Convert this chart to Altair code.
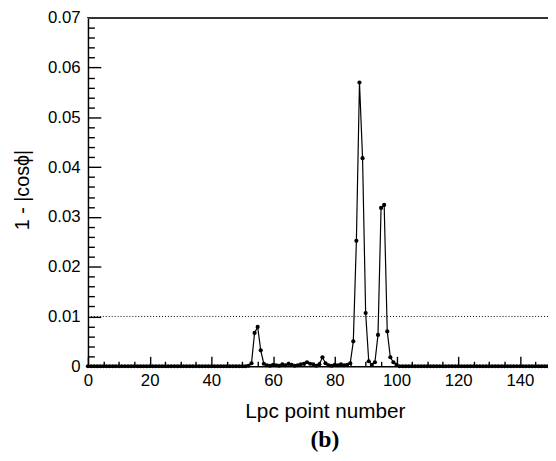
import altair as alt
import pandas as pd

# Lpc point index and 1 - |cos(phi)|
lpc_point = list(range(150))
one_minus_cos = [
    0, 0, 0, 0, 0, 0, 0, 0, 0, 0,
    0, 0, 0, 0, 0, 0, 0, 0, 0, 0,
    0, 0, 0, 0, 0, 0, 0, 0, 0, 0,
    0, 0, 0, 0, 0, 0, 0, 0, 0, 0,
    0, 0, 0, 0, 0, 0, 0, 0, 0, 0,
    0, 0, 0.0001, 0.0006, 0.0067, 0.0079, 0.0032, 0.0005, 0.0002, 0.0001,
    0.0003, 0.0002, 0.0001, 0.0004, 0.0002, 0.0005, 0.0003, 0.0001, 0.0002, 0.0004,
    0.0005, 0.0008, 0.0005, 0.0004, 0.0001, 0.0004, 0.0018, 0.0006, 0.0002, 0.0001,
    0.0003, 0.0002, 0.0004, 0.0002, 0.0003, 0.0006, 0.0050, 0.0252, 0.0570, 0.0418,
    0.0107, 0.0010, 0.0003, 0.0008, 0.0063, 0.0318, 0.0324, 0.0070, 0.0018, 0.0008,
    0.0003, 0, 0, 0, 0, 0, 0, 0, 0, 0,
    0, 0, 0, 0, 0, 0, 0, 0, 0, 0,
    0, 0, 0, 0, 0, 0, 0, 0, 0, 0,
    0, 0, 0, 0, 0, 0, 0, 0, 0, 0,
    0, 0, 0, 0, 0, 0, 0, 0, 0, 0,
]
threshold = [0.01]

x_labels = [0, 20, 40, 60, 80, 100, 120, 140]
x_ticks = [0, 5, 10, 15, 20, 25, 30, 35, 40, 45, 50, 55, 60, 65, 70, 75,
           80, 85, 90, 95, 100, 105, 110, 115, 120, 125, 130, 135, 140, 145]
y_labels = [0, 0.01, 0.02, 0.03, 0.04, 0.05, 0.06, 0.07]
y_ticks = [0, 0.002, 0.004, 0.006, 0.008, 0.01, 0.012, 0.014, 0.016, 0.018,
           0.02, 0.022, 0.024, 0.026, 0.028, 0.03, 0.032, 0.034, 0.036, 0.038,
           0.04, 0.042, 0.044, 0.046, 0.048, 0.05, 0.052, 0.054, 0.056, 0.058,
           0.06, 0.062, 0.064, 0.066, 0.068, 0.07]

X_MAX = 149.1
Y_MAX = 0.07
W = 466
H = 353
FONT = "Liberation Sans"

df = pd.DataFrame({"point": lpc_point, "value": one_minus_cos})

x_scale = alt.Scale(domain=[0, X_MAX], nice=False, zero=False)
y_scale = alt.Scale(domain=[0, Y_MAX], nice=False)

x_enc = alt.X("point:Q", scale=x_scale, axis=alt.Axis(
    values=x_labels, ticks=False, grid=False, labelFlush=False, labelOverlap=False,
    domainColor="black", domainWidth=1.5,
    labelFont=FONT, labelFontSize=17, labelColor="black", labelPadding=7,
    title="Lpc point number", titleFont=FONT, titleFontSize=21,
    titleFontWeight="normal", titleColor="black",
    titleX=240, titleY=52, titleBaseline="alphabetic"))
y_enc = alt.Y("value:Q", scale=y_scale, axis=alt.Axis(
    values=y_labels, ticks=False, grid=False, labelFlush=False, labelOverlap=False,
    labelExpr="datum.value == 0 ? '0' : format(datum.value, '.2f')",
    domainColor="black", domainWidth=1.5,
    labelFont=FONT, labelFontSize=17, labelColor="black", labelPadding=8,
    title="1 - |cosϕ|", titleFont=FONT, titleFontSize=20,
    titleFontWeight="normal", titleColor="black",
    titleX=-56, titleY=174))

line = alt.Chart(df).mark_line(color="black", strokeWidth=1.2).encode(x=x_enc, y=y_enc)
dots = alt.Chart(df).mark_circle(color="black", size=18, opacity=1).encode(x=x_enc, y=y_enc)

frame_top = alt.Chart(df).mark_rule(color="#333333", strokeWidth=1.6).encode(
    x=alt.datum(0), x2=alt.datum(X_MAX), y=alt.datum(Y_MAX))
cut = alt.Chart(pd.DataFrame({"cut": threshold})).mark_rule(
    color="black", strokeWidth=1, strokeDash=[1, 2]).encode(
    x=alt.datum(0), x2=alt.datum(X_MAX), y=alt.Y("cut:Q", scale=y_scale))

plot = alt.layer(cut, frame_top, line, dots)

# inward ticks, drawn by axes on the opposite sides pulled over to the plot edges
ticks = alt.Chart(df).mark_point(opacity=0).encode(
    x=alt.X("point:Q", scale=x_scale, axis=alt.Axis(
        orient="top", offset=-H, values=x_ticks, labels=False, domain=False,
        grid=False, title="", tickColor="black", tickWidth=1.4,
        tickSize={"condition": {"test": "datum.value % 20 === 0", "value": 10}, "value": 5})),
    y=alt.Y("value:Q", scale=y_scale, axis=alt.Axis(
        orient="right", offset=-W, values=y_ticks, labels=False, domain=False,
        grid=False, title="", tickColor="black", tickWidth=1.4,
        tickSize={"condition": {"test": "abs(datum.value * 100 - round(datum.value * 100)) < 0.001",
                                "value": 13}, "value": 6.5})),
)

chart = alt.layer(plot, ticks).resolve_axis(
    x="independent", y="independent"
).properties(
    width=W, height=H,
    autosize=alt.AutoSizeParams(type="none"),
    padding={"left": 81, "top": 7, "right": 0, "bottom": 85},
    title=alt.TitleParams("(b)", orient="bottom", anchor="middle", dx=7, offset=7,
                          font="Liberation Serif", fontSize=24, fontWeight="bold",
                          color="black"),
).configure_view(stroke="transparent").configure(background="white")

chart.save("out.html", embed_options={"renderer": "svg", "actions": False})
